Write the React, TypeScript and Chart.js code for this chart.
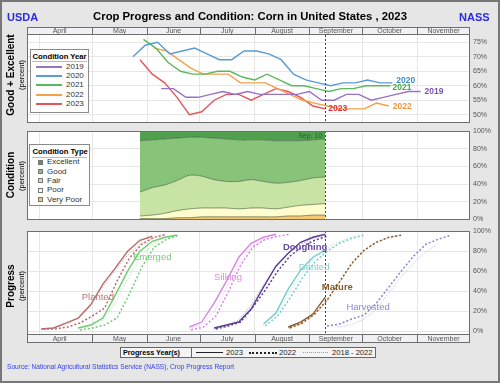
import React, { useEffect, useRef } from "react";
import { Chart, registerables } from "chart.js";

Chart.register(...registerables);

const FONT = "'Liberation Sans', Arial, Helvetica, sans-serif";
Chart.defaults.font.family = FONT;

// ---------------- data ----------------
const axisRange = ["03/25", "12/01"];
const months = ["April", "May", "June", "July", "August", "September", "October", "November"];
const monthStarts = ["04/01", "05/01", "06/01", "07/01", "08/01", "09/01", "10/01", "11/01"];
const reportDate = "09/10";
const reportLabel = "Sep. 10";

const condYears = ["2019", "2020", "2021", "2022", "2023"];
const cond2019Dates = ["06/09","06/16","06/23","06/30","07/07","07/14","07/21","07/28","08/04","08/11","08/18","08/25","09/01","09/08","09/15","09/22","09/29","10/06","10/13","10/20","10/27","11/03"];
const cond2019 = [59,59,56,56,57,58,57,58,57,57,57,57,58,55,55,57,57,55,56,57,58,58];
const cond2020Dates = ["05/24","05/31","06/07","06/14","06/21","06/28","07/05","07/12","07/19","07/26","08/02","08/09","08/16","08/23","08/30","09/06","09/13","09/20","09/27","10/04","10/11","10/18"];
const cond2020 = [70,74,75,71,72,73,71,69,69,72,72,71,69,64,62,61,60,61,61,62,61,61];
const cond2021Dates = ["05/30","06/06","06/13","06/20","06/27","07/04","07/11","07/18","07/25","08/01","08/08","08/15","08/22","08/29","09/05","09/12","09/19","09/26","10/03","10/10","10/17"];
const cond2021 = [76,73,68,65,64,64,65,65,63,62,64,62,60,60,59,58,59,59,60,60,60];
const cond2022Dates = ["06/05","06/12","06/19","06/26","07/03","07/10","07/17","07/24","07/31","08/07","08/14","08/21","08/28","09/04","09/11","09/18","09/25","10/02","10/09","10/16"];
const cond2022 = [73,72,69,66,64,64,64,61,61,61,59,57,55,54,53,52,52,52,54,53];
const cond2023Dates = ["05/28","06/04","06/11","06/18","06/25","07/02","07/09","07/16","07/23","07/30","08/06","08/13","08/20","08/27","09/03","09/10"];
const cond2023 = [69,64,61,56,50,51,55,57,57,55,57,59,58,56,53,52];

const condTypes = ["Excellent", "Good", "Fair", "Poor", "Very Poor"];
const condExcellent = [11,10,9,8,7,7,8,9,10,10,10,11,11,11,10,9];
const condGood = [58,54,52,48,43,44,47,48,47,45,47,48,47,45,43,43];
const condFair = [27,31,32,34,38,36,32,30,31,32,30,29,28,28,30,30];
const condPoor = [3,4,6,8,10,10,10,10,9,10,10,9,10,12,12,13];
const condVeryPoor = [1,1,1,2,2,3,3,3,3,3,3,3,4,4,5,5];

const stages = ["Planted", "Emerged", "Silking", "Doughing", "Dented", "Mature", "Harvested"];
const progressYears = ["2023", "2022", "2018 - 2022"];

const planted2023Dates = ["04/02","04/09","04/16","04/23","04/30","05/07","05/14","05/21","05/28","06/04"];
const planted2023 = [2,3,8,13,26,47,63,80,91,95];
const planted2022Dates = ["04/03","04/10","04/17","04/24","05/01","05/08","05/15","05/22","05/29","06/05","06/12"];
const planted2022 = [2,2,4,8,15,23,50,73,87,94,97];
const plantedAvgDates = ["04/02","04/09","04/16","04/23","04/30","05/07","05/14","05/21","05/28","06/04","06/11"];
const plantedAvg = [2,3,6,13,27,44,61,76,87,93,96];

const emerged2023Dates = ["04/23","04/30","05/07","05/14","05/21","05/28","06/04","06/11","06/18"];
const emerged2023 = [3,6,13,36,60,80,90,94,96];
const emerged2022Dates = ["04/24","05/01","05/08","05/15","05/22","05/29","06/05","06/12","06/19"];
const emerged2022 = [1,3,6,13,37,64,84,92,96];
const emergedAvgDates = ["04/23","04/30","05/07","05/14","05/21","05/28","06/04","06/11","06/18"];
const emergedAvg = [2,5,11,28,52,73,87,94,97];

const silking2023Dates = ["06/25","07/02","07/09","07/16","07/23","07/30","08/06","08/13"];
const silking2023 = [4,9,28,50,74,88,94,97];
const silking2022Dates = ["06/26","07/03","07/10","07/17","07/24","07/31","08/07","08/14","08/21"];
const silking2022 = [1,4,15,39,66,84,92,95,97];
const silkingAvgDates = ["06/25","07/02","07/09","07/16","07/23","07/30","08/06","08/13"];
const silkingAvg = [2,6,19,43,68,84,92,96];

const doughing2023Dates = ["07/09","07/16","07/23","07/30","08/06","08/13","08/20","08/27","09/03","09/10"];
const doughing2023 = [3,6,9,22,44,65,78,89,94,97];
const doughing2022Dates = ["07/10","07/17","07/24","07/31","08/07","08/14","08/21","08/28","09/04","09/11"];
const doughing2022 = [2,5,9,24,41,60,75,85,91,95];
const doughingAvgDates = ["07/09","07/16","07/23","07/30","08/06","08/13","08/20","08/27","09/03","09/10"];
const doughingAvg = [2,5,11,26,46,64,78,87,93,96];

const dented2023Dates = ["08/06","08/13","08/20","08/27","09/03","09/10"];
const dented2023 = [7,18,42,61,74,81];
const dented2022Dates = ["08/07","08/14","08/21","08/28","09/04","09/11","09/18","09/25","10/02"];
const dented2022 = [5,15,33,53,69,80,88,93,96];
const dentedAvgDates = ["08/06","08/13","08/20","08/27","09/03","09/10","09/17","09/24","10/01"];
const dentedAvg = [6,16,36,56,71,82,89,94,97];

const mature2023Dates = ["08/20","08/27","09/03","09/10"];
const mature2023 = [4,9,17,34];
const mature2022Dates = ["08/21","08/28","09/04","09/11","09/18","09/25","10/02","10/09","10/16","10/23"];
const mature2022 = [3,8,17,31,49,68,81,89,94,96];
const matureAvgDates = ["08/20","08/27","09/03","09/10","09/17","09/24","10/01","10/08","10/15","10/22"];
const matureAvg = [3,7,15,28,46,64,79,88,93,96];

const harvested2023Dates: string[] = [];
const harvested2023: number[] = [];
const harvested2022Dates = ["09/11","09/18","09/25","10/02","10/09","10/16","10/23","10/30","11/06","11/13","11/20"];
const harvested2022 = [5,7,12,16,28,44,60,75,87,92,96];
const harvestedAvgDates = ["09/17","09/24","10/01","10/08","10/15","10/22","10/29","11/05","11/12"];
const harvestedAvg = [4,6,11,20,36,52,66,78,86];

// ---------------- styles / layout ----------------
const W = 500, H = 383, PLOT_LEFT = 27, PLOT_RIGHT = 470;
const yearColors = ["#9673c6", "#5b9bd5", "#5cb85c", "#f5a04a", "#e5545a"];
const yearLabelColors = ["#7a4fb0", "#3d8bc9", "#4aa84a", "#f0963c", "#e0303a"];
const yearLabelOffsets = [[4, 0], [4, -2], [2, 2], [4, 1], [3, 0]];
const condColors = ["#50a050", "#87c378", "#c8e4a5", "#fffccd", "#f8c86e"];
const stageColors = ["#b86b6b", "#6fcc6f", "#d985e6", "#5e3d93", "#74cccc", "#87592c", "#8585d6"];
const stageLabelColors = ["#c27575", "#75cc75", "#de8ce8", "#6a48a0", "#80d0d0", "#8a5a2a", "#8a8ad8"];
const stageLabelBold = [false, false, false, true, false, true, false];
const stageLabelAnchor: [string, number][] = [["04/25", 34], ["05/24", 74], ["07/09", 54], ["08/17", 84], ["08/26", 64], ["09/08", 44], ["09/22", 24]];

const toDay = (md: string): number => {
  const [m, d] = md.split("/").map(Number);
  return Math.round((Date.UTC(2023, m - 1, d) - Date.UTC(2023, 0, 1)) / 86400000) + 1;
};
const pts = (dates: string[], vals: number[]) => dates.map((d, i) => ({ x: toDay(d), y: vals[i] }));

const hexA = (hex: string, a: number) => {
  const n = parseInt(hex.slice(1), 16);
  return `rgba(${(n >> 16) & 255},${(n >> 8) & 255},${n & 255},${a})`;
};

const decorPlugin = {
  id: "decor",
  beforeDraw(chart: any) {
    const { ctx, chartArea: a } = chart;
    ctx.save();
    ctx.fillStyle = "#ffffff";
    ctx.fillRect(a.left, a.top, a.right - a.left, a.bottom - a.top);
    ctx.restore();
  },
  afterDatasetsDraw(chart: any, _args: any, opts: any) {
    const { ctx, chartArea: a } = chart;
    const xs = chart.scales.x, ys = chart.scales.y;
    ctx.save();
    if (opts.marker != null) {
      const px = Math.round(xs.getPixelForValue(opts.marker)) + 0.5;
      ctx.strokeStyle = "#444";
      ctx.lineWidth = 1;
      ctx.setLineDash([2, 2]);
      ctx.beginPath();
      ctx.moveTo(px, a.top - (opts.strip === "top" ? opts.stripH : 0));
      ctx.lineTo(px, a.bottom);
      ctx.stroke();
      ctx.setLineDash([]);
    }
    (opts.labels || []).forEach((l: any) => {
      ctx.font = `${l.bold ? "bold " : ""}${l.size}px ${FONT}`;
      ctx.fillStyle = l.color;
      ctx.textAlign = l.align || "left";
      ctx.textBaseline = "middle";
      const px = xs.getPixelForValue(l.x);
      const py = ys.getPixelForValue(l.y);
      ctx.fillText(l.text, px + (l.dx || 0), py + (l.dy || 0));
    });
    (opts.endLabels || []).forEach((l: any) => {
      const meta = chart.getDatasetMeta(l.index);
      const last = meta.data[meta.data.length - 1];
      if (!last) return;
      ctx.font = `bold ${l.size}px ${FONT}`;
      ctx.fillStyle = l.color;
      ctx.textAlign = "left";
      ctx.textBaseline = "middle";
      ctx.fillText(l.text, last.x + l.dx, last.y + l.dy);
    });
    ctx.restore();
  },
  afterDraw(chart: any, _args: any, opts: any) {
    const { ctx, chartArea: a } = chart;
    const xs = chart.scales.x;
    ctx.save();
    ctx.strokeStyle = "#6e6e6e";
    ctx.lineWidth = 1;
    let top = a.top, bottom = a.bottom;
    if (opts.strip) {
      const sTop = opts.strip === "top" ? a.top - opts.stripH : a.bottom;
      const sBot = sTop + opts.stripH;
      if (opts.strip === "top") top = sTop; else bottom = sBot;
      ctx.fillStyle = "#f1f1f5";
      ctx.fillRect(a.left, sTop, a.right - a.left, opts.stripH);
      const bounds = [a.left, ...monthStarts.slice(1).map((m) => xs.getPixelForValue(toDay(m))), a.right];
      ctx.beginPath();
      ctx.moveTo(a.left, Math.round(opts.strip === "top" ? sBot : sTop) + 0.5);
      ctx.lineTo(a.right, Math.round(opts.strip === "top" ? sBot : sTop) + 0.5);
      bounds.slice(1, -1).forEach((b) => {
        ctx.moveTo(Math.round(b) + 0.5, sTop);
        ctx.lineTo(Math.round(b) + 0.5, sBot);
      });
      ctx.stroke();
      ctx.fillStyle = "#555";
      ctx.font = `7px ${FONT}`;
      ctx.textAlign = "center";
      ctx.textBaseline = "middle";
      months.forEach((m, i) => ctx.fillText(m, (bounds[i] + bounds[i + 1]) / 2, (sTop + sBot) / 2 + 0.5));
    }
    ctx.strokeRect(Math.round(a.left) + 0.5, Math.round(top) + 0.5, Math.round(a.right - a.left) - 1, Math.round(bottom - top) - 1);
    ctx.restore();
  },
};

function baseOptions(top: number, bottom: number, yMin: number, yMax: number, step: number, decor: any) {
  return {
    responsive: false,
    animation: false,
    devicePixelRatio: 1,
    layout: { padding: { left: PLOT_LEFT, right: 0, top, bottom: H - bottom } },
    plugins: { legend: { display: false }, tooltip: { enabled: false }, decor },
    elements: { point: { radius: 0 }, line: { tension: 0 } },
    scales: {
      x: {
        type: "linear",
        min: toDay(axisRange[0]),
        max: toDay(axisRange[1]),
        ticks: { display: false },
        grid: { color: "#e6e6e6", drawTicks: false },
        border: { display: false },
        afterBuildTicks: (s: any) => { s.ticks = monthStarts.map((m) => ({ value: toDay(m) })); },
        afterFit: (s: any) => { s.height = 0; },
      },
      y: {
        position: "right",
        min: yMin,
        max: yMax,
        ticks: { stepSize: step, includeBounds: false, padding: 3, color: "#555", font: { size: 7, family: FONT }, callback: (v: any) => `${v}%` },
        grid: { color: "#e6e6e6", drawTicks: false },
        border: { display: false },
        afterFit: (s: any) => { s.width = W - PLOT_RIGHT; },
      },
    },
  };
}

function conditionYearConfig(): any {
  const series = [pts(cond2019Dates, cond2019), pts(cond2020Dates, cond2020), pts(cond2021Dates, cond2021), pts(cond2022Dates, cond2022), pts(cond2023Dates, cond2023)];
  return {
    type: "line",
    data: {
      datasets: series.map((d, i) => ({ label: condYears[i], data: d, borderColor: yearColors[i], borderWidth: 1.4, fill: false })),
    },
    options: baseOptions(34, 123, 47.13, 77.87, 5, {
      strip: "top",
      stripH: 7,
      marker: toDay(reportDate),
      endLabels: condYears.map((t, i) => ({ index: i, text: t, color: yearLabelColors[i], size: 8.5, dx: yearLabelOffsets[i][0], dy: yearLabelOffsets[i][1] })),
    }),
    plugins: [decorPlugin],
  };
}

function conditionTypeConfig(): any {
  const layers = [condVeryPoor, condPoor, condFair, condGood, condExcellent];
  const colors = [condColors[4], condColors[3], condColors[2], condColors[1], condColors[0]];
  const names = [condTypes[4], condTypes[3], condTypes[2], condTypes[1], condTypes[0]];
  const opts: any = baseOptions(131, 219.5, 0, 100, 20, {
    marker: toDay(reportDate),
    labels: [{ text: reportLabel, x: toDay(reportDate), y: 100, dx: -3, dy: 5.5, color: "#2f5a2f", size: 7, align: "right" }],
  });
  opts.scales.y.stacked = true;
  return {
    type: "line",
    data: {
      datasets: layers.map((vals, i) => ({
        label: names[i],
        data: pts(cond2023Dates, vals),
        backgroundColor: colors[i],
        borderColor: "rgba(60,85,60,0.75)",
        borderWidth: 0.8,
        fill: i === 0 ? "origin" : "-1",
        tension: 0.3,
      })),
    },
    options: opts,
    plugins: [decorPlugin],
  };
}

function progressConfig(): any {
  const sets: [string[], number[], string[], number[], string[], number[]][] = [
    [planted2023Dates, planted2023, planted2022Dates, planted2022, plantedAvgDates, plantedAvg],
    [emerged2023Dates, emerged2023, emerged2022Dates, emerged2022, emergedAvgDates, emergedAvg],
    [silking2023Dates, silking2023, silking2022Dates, silking2022, silkingAvgDates, silkingAvg],
    [doughing2023Dates, doughing2023, doughing2022Dates, doughing2022, doughingAvgDates, doughingAvg],
    [dented2023Dates, dented2023, dented2022Dates, dented2022, dentedAvgDates, dentedAvg],
    [mature2023Dates, mature2023, mature2022Dates, mature2022, matureAvgDates, matureAvg],
    [harvested2023Dates, harvested2023, harvested2022Dates, harvested2022, harvestedAvgDates, harvestedAvg],
  ];
  const datasets: any[] = [];
  sets.forEach((s, i) => {
    const c = stageColors[i];
    datasets.push({ label: `${stages[i]} ${progressYears[2]}`, data: pts(s[4], s[5]), borderColor: hexA(c, 0.45), borderWidth: 1, borderDash: [1.5, 1.5], fill: false });
    datasets.push({ label: `${stages[i]} ${progressYears[1]}`, data: pts(s[2], s[3]), borderColor: c, borderWidth: 1.5, borderDash: [2, 2], fill: false });
    datasets.push({ label: `${stages[i]} ${progressYears[0]}`, data: pts(s[0], s[1]), borderColor: c, borderWidth: 1.4, fill: false });
  });
  return {
    type: "line",
    data: { datasets },
    options: baseOptions(231, 334, -3, 100.3, 20, {
      strip: "bottom",
      stripH: 8.5,
      marker: toDay(reportDate),
      labels: stages.map((t, i) => ({ text: t, x: toDay(stageLabelAnchor[i][0]), y: stageLabelAnchor[i][1], color: stageLabelColors[i], size: 9.5, bold: stageLabelBold[i] })),
    }),
    plugins: [decorPlugin],
  };
}

type TP = { x: number; y: number; t: string; s: number; b?: boolean; c?: string; a?: "l" | "c"; r?: boolean };
const Txt = ({ x, y, t, s, b, c, a, r }: TP) => (
  <div
    style={{
      position: "absolute",
      left: x,
      top: y,
      fontSize: s,
      fontWeight: b ? "bold" : "normal",
      color: c || "#000",
      lineHeight: 1,
      whiteSpace: "nowrap",
      transform: r ? "translate(-50%,-50%) rotate(-90deg)" : a === "c" ? "translate(-50%,-50%)" : "translateY(-50%)",
    }}
  >
    {t}
  </div>
);

const Line = ({ x, y, w, style }: { x: number; y: number; w: number; style: string }) => (
  <div style={{ position: "absolute", left: x, top: y, width: w, height: 0, borderTop: style }} />
);

export default function App() {
  const r1 = useRef<HTMLCanvasElement>(null);
  const r2 = useRef<HTMLCanvasElement>(null);
  const r3 = useRef<HTMLCanvasElement>(null);

  useEffect(() => {
    const charts = [
      new Chart(r1.current as HTMLCanvasElement, conditionYearConfig()),
      new Chart(r2.current as HTMLCanvasElement, conditionTypeConfig()),
      new Chart(r3.current as HTMLCanvasElement, progressConfig()),
    ];
    return () => charts.forEach((c) => c.destroy());
  }, []);

  const cs: React.CSSProperties = { position: "absolute", left: 0, top: 0, display: "block" };

  return (
    <div style={{ position: "fixed", left: 0, top: 0, width: W, height: H, background: "#e6e6e6", fontFamily: FONT, overflow: "hidden" }}>
      <canvas ref={r1} width={W} height={H} style={cs} />
      <canvas ref={r2} width={W} height={H} style={cs} />
      <canvas ref={r3} width={W} height={H} style={cs} />

      <Txt x={7} y={16.5} t="USDA" s={11} b c="#2b2bdf" />
      <Txt x={250} y={16.5} t="Crop Progress and Condition: Corn in United States , 2023" s={11.3} b a="c" />
      <Txt x={459} y={16.5} t="NASS" s={11} b c="#2b2bdf" />

      <Txt x={11} y={75} t="Good + Excellent" s={10} b r />
      <Txt x={22} y={75} t="(percent)" s={7.5} r />
      <Txt x={11} y={175} t="Condition" s={10} b r />
      <Txt x={22} y={176} t="(percent)" s={7.5} r />
      <Txt x={11} y={286} t="Progress" s={10} b r />
      <Txt x={22} y={286} t="(percent)" s={7.5} r />

      {/* Condition Year legend */}
      <div style={{ position: "absolute", left: 30, top: 49, width: 59, height: 64, boxSizing: "border-box", background: "#fff", border: "1px solid #8a8a8a" }} />
      <Txt x={32.5} y={56.5} t="Condition Year" s={7.7} b />
      <Line x={32} y={61} w={55} style="1px solid #bbb" />
      {condYears.map((y, i) => (
        <React.Fragment key={y}>
          <Line x={36} y={66 + i * 9.2} w={26} style={`2px solid ${yearColors[i]}`} />
          <Txt x={66} y={67 + i * 9.2} t={y} s={8} c="#333" />
        </React.Fragment>
      ))}

      {/* Condition Type legend */}
      <div style={{ position: "absolute", left: 29, top: 144, width: 61, height: 62, boxSizing: "border-box", background: "#fff", border: "1px solid #8a8a8a" }} />
      <Txt x={32.5} y={152.3} t="Condition Type" s={7.7} b />
      <Line x={32} y={157} w={55} style="1px solid #bbb" />
      {condTypes.map((t, i) => (
        <React.Fragment key={t}>
          <div style={{ position: "absolute", left: 38, top: 159.6 + i * 9.3, width: 5, height: 5, boxSizing: "border-box", background: condColors[i], border: "0.5px solid #777" }} />
          <Txt x={47} y={162.3 + i * 9.3} t={t} s={8} c="#333" />
        </React.Fragment>
      ))}

      {/* Progress year legend */}
      <div style={{ position: "absolute", left: 120, top: 347, width: 256, height: 11, boxSizing: "border-box", background: "#f4f4f4", border: "1px solid #666" }} />
      <div style={{ position: "absolute", left: 191, top: 347, width: 0, height: 11, borderLeft: "1px solid #666" }} />
      <Txt x={123} y={352.7} t="Progress Year(s)" s={7.2} b />
      <Line x={196} y={351.8} w={27} style="1.5px solid #222" />
      <Txt x={226} y={352.7} t={progressYears[0]} s={7.7} c="#222" />
      <Line x={249} y={351.6} w={28} style="2px dotted #222" />
      <Txt x={279} y={352.7} t={progressYears[1]} s={7.7} c="#222" />
      <Line x={303} y={352} w={25} style="1px dotted #999" />
      <Txt x={332} y={352.7} t={progressYears[2]} s={7.6} c="#222" />

      <Txt x={7} y={367} t="Source: National Agricultural Statistics Service (NASS), Crop Progress Report" s={6.6} c="#3340ee" />

      <div style={{ position: "absolute", left: 0, top: 0, width: W, height: H, boxSizing: "border-box", border: "2px solid #777", pointerEvents: "none" }} />
    </div>
  );
}
